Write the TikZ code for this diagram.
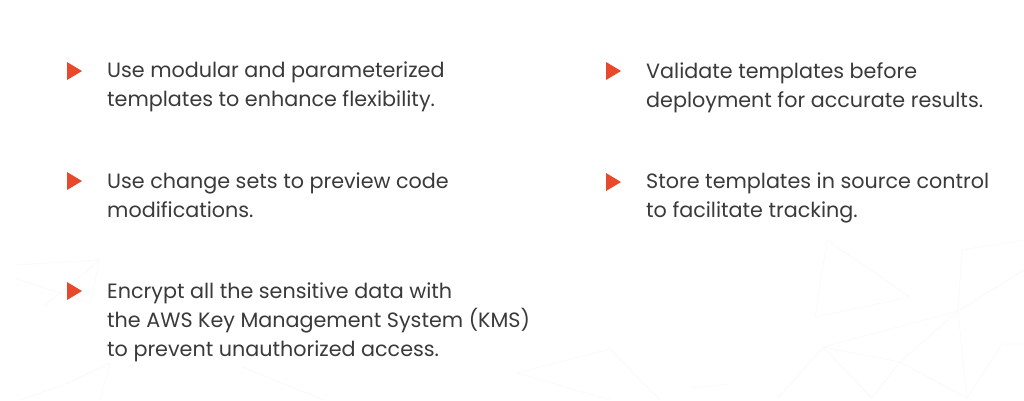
\documentclass[tikz,border=0pt]{standalone}
\usepackage{fontspec}
\setmainfont{Poppins}
\definecolor{txt}{HTML}{3A3A3A}
\definecolor{mk}{HTML}{E8492B}
\definecolor{webc}{HTML}{FBFAF8}
\tikzset{
 item/.style={anchor=north west,inner sep=0pt,text=txt,font=\fontsize{20.7pt}{29pt}\selectfont,align=left},
 web/.style={draw=webc,line width=.8pt},
 bullet/.style={fill=mk,draw=none}
}
\begin{document}
\begin{tikzpicture}[x=1pt,y=-1pt]
\useasboundingbox (0,0) rectangle (1024,400);
\fill[white] (0,0) rectangle (1024,400);
\draw[web] (827,240)--(815,317)--(910,297)--(827,240);
\draw[web] (823,347)--(958,311)--(900,362)--(823,347)--(778,398);
\draw[web] (823,347)--(872,398)--(900,362)--(967,398)--(958,311)--(962,250)--(1024,240);
\draw[web] (958,311)--(1024,270);
\draw[web] (967,398)--(1002,344)--(1024,344);
\draw[web] (690,388)--(730,384);
\draw[web] (517,373)--(610,349)--(660,400);
\draw[web] (517,373)--(610,400);
\draw[web] (15,265)--(100,260)--(90,303)--(15,278);
\draw[web] (43,307)--(100,260);
\draw[web] (68,383)--(110,363)--(100,400);
\draw[web] (68,383)--(20,400);
\draw[web] (242,367)--(324,400);
\node[item] (a) at (107,62) {Use modular and parameterized\\templates to enhance flexibility.};
\node[item] (b) at (107,173) {Use change sets to preview code\\modifications.};
\node[item] (c) at (107,283) {Encrypt all the sensitive data with\\the AWS Key Management System (KMS)\\to prevent unauthorized access.};
\node[item] (d) at (646,62) {Validate templates before\\deployment for accurate results.};
\node[item] (e) at (646,173) {Store templates in source control\\to facilitate tracking.};
\fill[bullet] (67,62)--(82,71)--(67,80)--cycle;
\fill[bullet] (67,172)--(82,181)--(67,190)--cycle;
\fill[bullet] (67,282)--(82,291)--(67,300)--cycle;
\fill[bullet] (606,62)--(621,71)--(606,80)--cycle;
\fill[bullet] (606,173)--(621,182)--(606,191)--cycle;
\end{tikzpicture}
\end{document}
